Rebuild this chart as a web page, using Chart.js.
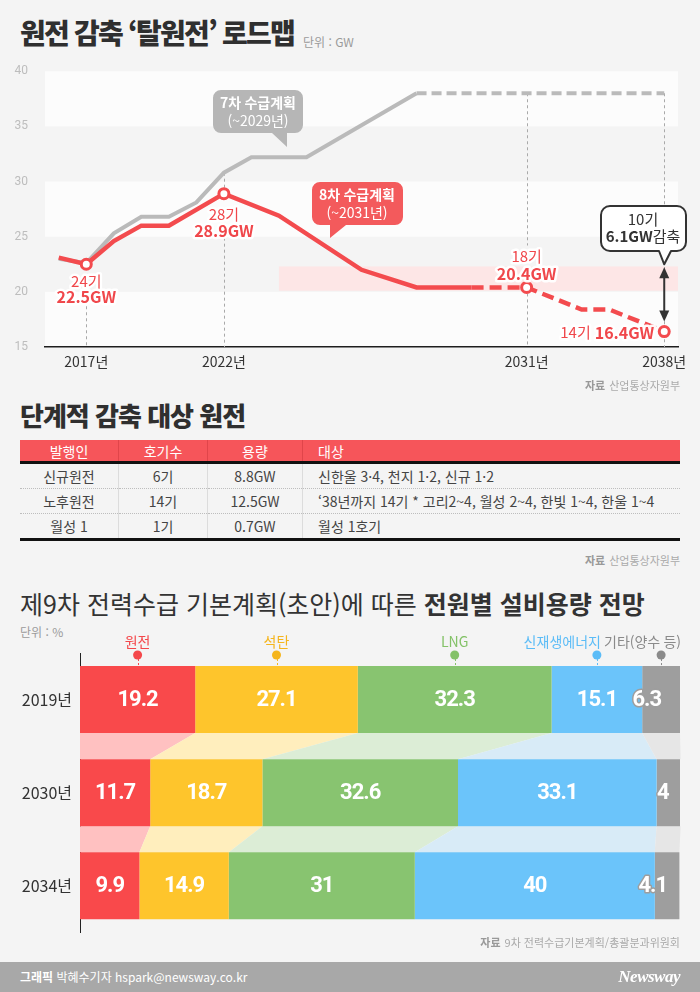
<!DOCTYPE html>
<html lang="ko">
<head>
<meta charset="utf-8">
<title>원전 감축 로드맵</title>
<script src="https://cdn.jsdelivr.net/npm/chart.js@4.4.1/dist/chart.umd.min.js"></script>
<style>
    body {
        margin: 0;
        width: 700px;
        height: 992px;
        background: #f4f4f4;
        font-family: 'Noto Sans CJK KR', sans-serif;
        color: #333;
        position: relative;
        overflow: hidden;
    }
    .abs { position: absolute; white-space: nowrap; }
    .title { font-weight: 900; color: #2f2f2f; }
    .unit { font-size: 12px; color: #9a9a9a; }
    .source { font-size: 11px; color: #aaa; right: 20px; line-height: 14px; }
    .source b { color: #999; margin-right: 4px; }
    #plants {
        position: absolute;
        left: 20px;
        top: 440px;
        width: 660px;
        border-collapse: collapse;
        font-size: 14px;
        color: #444;
    }
    #plants th {
        background: #f6555a;
        color: #fff;
        font-weight: normal;
        height: 21px;
        padding: 0;
        border-bottom: 3px solid #111;
        border-left: 1px solid #e0454a;
    }
    #plants td {
        height: 24px;
        padding: 0;
        text-align: center;
        border-top: 1px dotted #bdbdbd;
        border-left: 1px solid #dcdcdc;
    }
    #plants th:first-child, #plants td:first-child { border-left: none; }
    #plants th:last-child, #plants td:last-child { text-align: left; padding-left: 15px; }
    #plants tr:last-child td { border-bottom: 3px solid #111; }
    #footer {
        position: absolute;
        left: 0; top: 962px;
        width: 700px; height: 30px;
        background: #a8a8a8;
        color: #fff;
        font-size: 12px;
        line-height: 30px;
    }
</style>
</head>
<body>

<div class="abs title" style="left:20px; top:18px; font-size:28px; line-height:28px; letter-spacing:-1.8px;">원전 감축 ‘탈원전’ 로드맵</div>
<div class="abs unit" style="left:303px; top:34px; line-height:16px;">단위 : GW</div>

<canvas id="roadmap-chart" class="abs" style="left:0; top:55px;" width="700" height="325"></canvas>
<div class="abs source" style="top:378px;"><b>자료</b>산업통상자원부</div>

<div class="abs title" style="left:20px; top:401px; font-size:26px; line-height:28px; letter-spacing:-1px;">단계적 감축 대상 원전</div>
<table id="plants"><thead><tr></tr></thead><tbody></tbody></table>
<div class="abs source" style="top:553px;"><b>자료</b>산업통상자원부</div>

<div class="abs" style="left:20px; top:589px; font-size:25px; line-height:28px; letter-spacing:0; color:#333;">제9차 전력수급 기본계획(초안)에 따른 <b>전원별 설비용량 전망</b></div>
<div class="abs unit" style="left:20px; top:624px; line-height:16px;">단위 : %</div>

<canvas id="mix-chart" class="abs" style="left:0; top:620px;" width="700" height="330"></canvas>
<div class="abs source" style="top:935px;"><b>자료</b>9차 전력수급기본계획/총괄분과위원회</div>

<div id="footer">
    <span style="position:absolute; left:20px;"><b>그래픽</b> 박혜수기자 hspark@newsway.co.kr</span>
    <span style="position:absolute; right:20px; font-family:'Liberation Serif', serif; font-style:italic; font-weight:bold; font-size:17px; letter-spacing:-0.5px;">Newsway</span>
</div>

<script>
// Feuille de route : positions sur l'axe (une case par année affichée)
const xLabels = ['', '2017년', '', '', '', '', '2022년', '', '', '', '', '', '', '', '', '', '', '2031년', '', '', '', '', '2038년'];
const yTicks = [15, 20, 25, 30, 35, 40];

// 8차 수급계획 (GW)
const plan8 = [23.1, 22.5, 24.6, 26.0, 26.0, null, 28.9, null, 26.9, null, null, 22.0, null, 20.4, null, 20.4, null, 20.4, null, 18.4, 18.4, null, 16.4];
// 7차 수급계획 (GW)
const plan7 = [23.0, 22.6, 25.3, 26.8, 26.8, 28.1, 30.8, 32.2, null, 32.2, null, null, null, 38.0, null, null, null, 38.0, null, null, null, null, 38.0];

const plan8DashFrom = 15;
const plan7DashFrom = 13;
const markerSlots = [1, 6, 17, 22];
const markerUnits = [24, 28, 18, 14];
const highlightBand = [20.1, 22.3];
const highlightFromSlot = 8;

// Tableau
const tableHeaders = ['발행인', '호기수', '용량', '대상'];
const plantGroups = ['신규원전', '노후원전', '월성 1'];
const plantUnits = ['6기', '14기', '1기'];
const plantCapacity = ['8.8GW', '12.5GW', '0.7GW'];
const plantTargets = ['신한울 3·4, 천지 1·2, 신규 1·2', '‘38년까지 14기 * 고리2~4, 월성 2~4, 한빛 1~4, 한울 1~4', '월성 1호기'];

// Mix électrique (%)
const mixYears = ['2019년', '2030년', '2034년'];
const mixSources = ['원전', '석탄', 'LNG', '신재생에너지', '기타(양수 등)'];
const nuclearShare = [19.2, 11.7, 9.9];
const coalShare = [27.1, 18.7, 14.9];
const lngShare = [32.3, 32.6, 31];
const renewableShare = [15.1, 33.1, 40];
const otherShare = [6.3, 4, 4.1];

// Couleurs
const RED = '#f34b4e';
const RED_TEXT = '#f0474b';
const GRAY_LINE = '#bababa';
const sourceColors = ['#f9494b', '#fec52c', '#88c470', '#6bc4fa', '#9e9e9e'];
const linkColors = ['#ffc1c1', '#ffeebd', '#dcedd6', '#d8ebf7', '#e6e6e6'];
const legendColors = ['#f4474a', '#f5b51c', '#84c268', '#5bbcf7', '#8a8a8a'];

const KR = "'Noto Sans CJK KR', sans-serif";
Chart.defaults.font.family = KR;

document.addEventListener('DOMContentLoaded', () => {
    buildTable();
    drawRoadmap();
    drawMix();
});

// Construction du tableau
function buildTable() {
    const headRow = document.querySelector('#plants thead tr');
    const widths = [98, 88, 94, null];
    tableHeaders.forEach((h, i) => {
        const th = document.createElement('th');
        th.textContent = h;
        if (widths[i]) th.style.width = widths[i] + 'px';
        headRow.appendChild(th);
    });
    const body = document.querySelector('#plants tbody');
    plantGroups.forEach((g, i) => {
        const tr = document.createElement('tr');
        [g, plantUnits[i], plantCapacity[i], plantTargets[i]].forEach(txt => {
            const td = document.createElement('td');
            td.textContent = txt;
            tr.appendChild(td);
        });
        body.appendChild(tr);
    });
}

// Texte avec halo blanc
function glowText(ctx, text, x, y, font, color, align) {
    ctx.font = font;
    ctx.textAlign = align || 'center';
    ctx.textBaseline = 'middle';
    ctx.lineJoin = 'round';
    ctx.lineWidth = 5;
    ctx.strokeStyle = 'rgba(255,255,255,0.95)';
    ctx.strokeText(text, x, y);
    ctx.fillStyle = color;
    ctx.fillText(text, x, y);
}

// Bulle arrondie avec pointe vers le bas
function bubblePath(ctx, x, y, w, h, r, t) {
    ctx.beginPath();
    ctx.moveTo(x + r, y);
    ctx.lineTo(x + w - r, y);
    ctx.arcTo(x + w, y, x + w, y + r, r);
    ctx.lineTo(x + w, y + h - r);
    ctx.arcTo(x + w, y + h, x + w - r, y + h, r);
    ctx.lineTo(t.x2, y + h);
    ctx.lineTo(t.tipX, t.tipY);
    ctx.lineTo(t.x1, y + h);
    ctx.lineTo(x + r, y + h);
    ctx.arcTo(x, y + h, x, y + h - r, r);
    ctx.lineTo(x, y + r);
    ctx.arcTo(x, y, x + r, y, r);
    ctx.closePath();
}

function dashedV(ctx, x, y1, y2) {
    ctx.beginPath();
    ctx.moveTo(x, y1);
    ctx.lineTo(x, y2);
    ctx.stroke();
}

const roadmapDecor = {
    id: 'roadmapDecor',
    beforeDraw(chart) {
        const { ctx, chartArea: a, scales: { x, y } } = chart;
        ctx.save();
        // bandes
        ctx.fillStyle = '#fcfcfc';
        for (let i = 0; i < yTicks.length - 1; i += 2) {
            const top = y.getPixelForValue(yTicks[i + 1]);
            const bottom = y.getPixelForValue(yTicks[i]);
            ctx.fillRect(a.left, top, a.width, bottom - top);
        }
        // zone rose
        const bTop = y.getPixelForValue(highlightBand[1]);
        const bBottom = y.getPixelForValue(highlightBand[0]);
        const bLeft = x.getPixelForValue(highlightFromSlot);
        ctx.fillStyle = '#fde6e6';
        ctx.fillRect(bLeft, bTop, a.right - bLeft, bBottom - bTop);
        ctx.restore();
    },
    beforeDatasetsDraw(chart) {
        const { ctx, chartArea: a, scales: { x, y } } = chart;
        ctx.save();
        ctx.strokeStyle = '#a9a9a9';
        ctx.lineWidth = 1;
        ctx.setLineDash([3, 3]);
        markerSlots.forEach((s, i) => {
            const px = Math.round(x.getPixelForValue(s)) + 0.5;
            const py = y.getPixelForValue(plan8[s]);
            const top7 = y.getPixelForValue(plan7[s]);
            if (i === 0) {
                dashedV(ctx, px, py + 42, a.bottom);
            } else if (i === 1) {
                dashedV(ctx, px, top7, py);
                dashedV(ctx, px, py + 44, a.bottom);
            } else if (i === 2) {
                dashedV(ctx, px, top7, py - 42);
                dashedV(ctx, px, py, a.bottom);
            } else {
                dashedV(ctx, px, top7, a.bottom);
            }
        });
        ctx.restore();
    },
    afterDatasetsDraw(chart) {
        const { ctx, scales: { x, y } } = chart;
        ctx.save();
        const unitFont = '15px ' + KR;
        const valFont = 'bold 16px ' + KR;

        markerSlots.forEach((s, i) => {
            const px = x.getPixelForValue(s);
            const py = y.getPixelForValue(plan8[s]);
            const unit = markerUnits[i] + '기';
            const val = plan8[s].toFixed(1) + 'GW';
            if (i === 0) {
                glowText(ctx, unit, px, py + 17, unitFont, RED_TEXT);
                glowText(ctx, val, px, py + 33, valFont, RED_TEXT);
            } else if (i === 1) {
                glowText(ctx, unit, px, py + 21, unitFont, RED_TEXT);
                glowText(ctx, val, px, py + 37, valFont, RED_TEXT);
            } else if (i === 2) {
                glowText(ctx, unit, px, py - 31, unitFont, RED_TEXT);
                glowText(ctx, val, px, py - 14, valFont, RED_TEXT);
            } else {
                ctx.font = valFont;
                const w = ctx.measureText(val).width;
                glowText(ctx, val, px - 10, py + 1, valFont, RED_TEXT, 'right');
                glowText(ctx, unit, px - 14 - w, py + 1, unitFont, RED_TEXT, 'right');
            }
        });

        // bulle 7차
        ctx.fillStyle = '#b6b6b6';
        bubblePath(ctx, 213, 35, 90, 43, 8, { x1: 272, x2: 287, tipX: 287, tipY: 92 });
        ctx.fill();
        ctx.fillStyle = '#fff';
        ctx.textAlign = 'center';
        ctx.textBaseline = 'middle';
        ctx.font = 'bold 14px ' + KR;
        ctx.fillText('7차 수급계획', 258, 48);
        ctx.font = '14px ' + KR;
        ctx.fillText('(~2029년)', 258, 66);

        // bulle 8차
        ctx.fillStyle = '#f35a5c';
        bubblePath(ctx, 312, 127, 91, 43, 8, { x1: 330, x2: 346, tipX: 330, tipY: 183 });
        ctx.fill();
        ctx.fillStyle = '#fff';
        ctx.font = 'bold 14px ' + KR;
        ctx.fillText('8차 수급계획', 357, 140);
        ctx.font = '14px ' + KR;
        ctx.fillText('(~2031년)', 357, 158);

        // flèche de réduction
        const last = markerSlots[markerSlots.length - 1];
        const ax = x.getPixelForValue(last);
        const yTop = y.getPixelForValue(plan8[markerSlots[0]]) + 3;
        const yBot = y.getPixelForValue(plan8[last]) - 10;
        ctx.strokeStyle = '#333';
        ctx.fillStyle = '#333';
        ctx.lineWidth = 2;
        ctx.beginPath();
        ctx.moveTo(ax, yTop + 8);
        ctx.lineTo(ax, yBot - 8);
        ctx.stroke();
        ctx.beginPath();
        ctx.moveTo(ax, yTop); ctx.lineTo(ax - 5, yTop + 11); ctx.lineTo(ax + 5, yTop + 11);
        ctx.closePath(); ctx.fill();
        ctx.beginPath();
        ctx.moveTo(ax, yBot); ctx.lineTo(ax - 5, yBot - 11); ctx.lineTo(ax + 5, yBot - 11);
        ctx.closePath(); ctx.fill();

        // bulle 감축
        bubblePath(ctx, 601, 151, 85, 45, 9, { x1: 659, x2: 671, tipX: ax, tipY: yTop - 3 });
        ctx.fillStyle = '#fff';
        ctx.fill();
        ctx.lineWidth = 2;
        ctx.strokeStyle = '#333';
        ctx.stroke();
        const cutUnits = markerUnits[0] - markerUnits[markerUnits.length - 1];
        const cutGW = (plan8[markerSlots[0]] - plan8[last]).toFixed(1) + 'GW';
        ctx.fillStyle = '#333';
        ctx.font = '15px ' + KR;
        ctx.fillText(cutUnits + '기', 643, 164);
        ctx.font = 'bold 15px ' + KR;
        const w1 = ctx.measureText(cutGW).width;
        ctx.font = '15px ' + KR;
        const w2 = ctx.measureText('감축').width;
        const sx = 643 - (w1 + w2) / 2;
        ctx.textAlign = 'left';
        ctx.font = 'bold 15px ' + KR;
        ctx.fillText(cutGW, sx, 181);
        ctx.font = '15px ' + KR;
        ctx.fillText('감축', sx + w1, 181);
        ctx.restore();
    }
};

function drawRoadmap() {
    const ctx = document.getElementById('roadmap-chart').getContext('2d');
    new Chart(ctx, {
        type: 'line',
        data: {
            labels: xLabels,
            datasets: [
                {
                    label: '8차 수급계획',
                    data: plan8,
                    borderColor: RED,
                    borderWidth: 4.5,
                    spanGaps: true,
                    tension: 0,
                    segment: {
                        borderDash: c => c.p0DataIndex >= plan8DashFrom ? [12, 6] : undefined
                    },
                    pointRadius: c => markerSlots.includes(c.dataIndex) ? 5 : 0,
                    pointHoverRadius: 0,
                    pointBackgroundColor: '#fff',
                    pointBorderColor: RED,
                    pointBorderWidth: 3
                },
                {
                    label: '7차 수급계획',
                    data: plan7,
                    borderColor: GRAY_LINE,
                    borderWidth: 4,
                    spanGaps: true,
                    tension: 0,
                    segment: {
                        borderDash: c => c.p0DataIndex >= plan7DashFrom ? [10, 5] : undefined
                    },
                    pointRadius: 0,
                    pointHoverRadius: 0
                }
            ]
        },
        options: {
            responsive: false,
            animation: false,
            events: [],
            layout: { padding: { top: 15, right: 22, left: 0, bottom: 0 } },
            plugins: {
                legend: { display: false },
                tooltip: { enabled: false }
            },
            scales: {
                x: {
                    offset: true,
                    grid: { display: false, drawTicks: false },
                    border: { display: true, color: '#1e1e1e', width: 1.5 },
                    ticks: {
                        autoSkip: false,
                        maxRotation: 0,
                        color: '#333',
                        padding: 6,
                        font: { size: 14 }
                    },
                    afterFit: s => { s.height = 33; }
                },
                y: {
                    min: yTicks[0],
                    max: yTicks[yTicks.length - 1],
                    grid: { display: false },
                    border: { display: false },
                    ticks: {
                        color: '#bdbdbd',
                        padding: 9,
                        font: { size: 12, family: 'Roboto' }
                    },
                    afterBuildTicks: s => { s.ticks = yTicks.map(v => ({ value: v })); },
                    afterFit: s => { s.width = 45; }
                }
            }
        },
        plugins: [roadmapDecor]
    });
}

// Décor du graphique en barres : liaisons, étiquettes, légende
const mixDecor = {
    id: 'mixDecor',
    beforeDatasetsDraw(chart) {
        const { ctx } = chart;
        ctx.save();
        chart.data.datasets.forEach((ds, k) => {
            const bars = chart.getDatasetMeta(k).data;
            for (let i = 0; i < bars.length - 1; i++) {
                const a = bars[i].getProps(['x', 'y', 'base', 'height'], true);
                const b = bars[i + 1].getProps(['x', 'y', 'base', 'height'], true);
                ctx.beginPath();
                ctx.moveTo(a.base, a.y + a.height / 2);
                ctx.lineTo(a.x, a.y + a.height / 2);
                ctx.lineTo(b.x, b.y - b.height / 2);
                ctx.lineTo(b.base, b.y - b.height / 2);
                ctx.closePath();
                ctx.fillStyle = linkColors[k];
                ctx.fill();
            }
        });
        ctx.restore();
    },
    afterDatasetsDraw(chart) {
        const { ctx, chartArea: area } = chart;
        ctx.save();
        ctx.textAlign = 'center';
        ctx.textBaseline = 'middle';
        chart.data.datasets.forEach((ds, k) => {
            const bars = chart.getDatasetMeta(k).data;
            bars.forEach((bar, i) => {
                const p = bar.getProps(['x', 'y', 'base'], true);
                const cx = (p.x + p.base) / 2;
                ctx.font = 'bold 22px Roboto';
                ctx.letterSpacing = '-1px';
                ctx.lineJoin = 'round';
                ctx.lineWidth = 3;
                ctx.strokeStyle = sourceColors[k];
                ctx.strokeText(String(ds.data[i]), cx, p.y + 1);
                ctx.fillStyle = '#fff';
                ctx.fillText(String(ds.data[i]), cx, p.y + 1);
                ctx.letterSpacing = '0px';
            });

            // légende au-dessus de la première barre
            const first = bars[0].getProps(['x', 'y', 'base', 'height'], true);
            const dx = (first.x + first.base) / 2;
            const top = first.y - first.height / 2;
            ctx.strokeStyle = legendColors[k];
            ctx.lineWidth = 1;
            ctx.setLineDash([2, 2]);
            ctx.beginPath();
            ctx.moveTo(Math.round(dx) + 0.5, top - 11);
            ctx.lineTo(Math.round(dx) + 0.5, top);
            ctx.stroke();
            ctx.setLineDash([]);
            ctx.fillStyle = legendColors[k];
            ctx.beginPath();
            ctx.arc(dx, top - 11, 4.5, 0, Math.PI * 2);
            ctx.fill();
            ctx.font = '14px ' + KR;
            let lx = dx;
            ctx.textAlign = 'center';
            if (k === 3) { ctx.textAlign = 'right'; lx = dx + 4; }
            if (k === 4) { ctx.textAlign = 'right'; lx = area.right + 1; }
            ctx.fillText(ds.label, lx, top - 24);
        });
        ctx.restore();
    }
};

function drawMix() {
    const ctx = document.getElementById('mix-chart').getContext('2d');
    const series = [nuclearShare, coalShare, lngShare, renewableShare, otherShare];
    new Chart(ctx, {
        type: 'bar',
        data: {
            labels: mixYears,
            datasets: series.map((s, k) => ({
                label: mixSources[k],
                data: s,
                backgroundColor: sourceColors[k],
                borderWidth: 0,
                barPercentage: 0.72,
                categoryPercentage: 1,
                stack: 'mix'
            }))
        },
        options: {
            indexAxis: 'y',
            responsive: false,
            animation: false,
            events: [],
            layout: { padding: { top: 33, right: 20, left: 0, bottom: 16 } },
            plugins: {
                legend: { display: false },
                tooltip: { enabled: false }
            },
            scales: {
                x: { stacked: true, min: 0, max: 100, display: false },
                y: {
                    stacked: true,
                    grid: { display: false, drawTicks: false },
                    border: { display: true, color: '#222', width: 1 },
                    ticks: { color: '#333', padding: 8, font: { size: 16 } },
                    afterFit: s => { s.width = 80; }
                }
            }
        },
        plugins: [mixDecor]
    });
}
</script>
</body>
</html>
